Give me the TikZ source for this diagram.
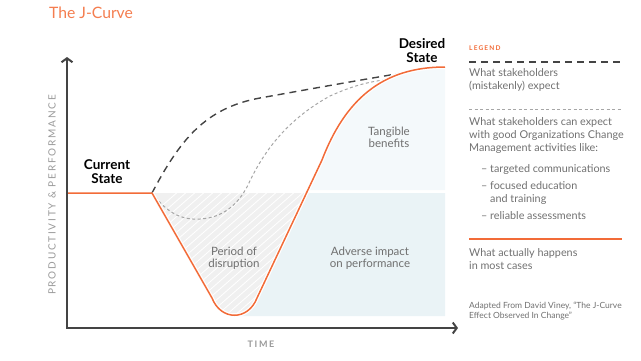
\documentclass[tikz,border=0pt]{standalone}
\usepackage{fontspec}
\setmainfont{Lato}
\newfontfamily\spacedfont[LetterSpace=18]{Lato}
\usetikzlibrary{arrows.meta}
\usetikzlibrary{positioning}
\definecolor{jorange}{HTML}{F26B38}
\definecolor{jtitle}{HTML}{F47D4F}
\definecolor{jaxis}{HTML}{444444}
\definecolor{jtext}{HTML}{707070}
\definecolor{jblue}{HTML}{EAF3F6}
\definecolor{jpale}{HTML}{F4F9FB}
\definecolor{jhatch}{HTML}{F0F0F0}
\tikzstyle{lab}=[text=jtext, align=center, font={\fontsize{11.5}{12}\selectfont}]
\tikzstyle{state}=[align=center, inner sep=0, font={\fontsize{13.5}{14}\selectfont\bfseries}]
\tikzstyle{leg}=[text=jtext, anchor=north west, align=left, inner sep=0, font={\fontsize{10.8}{13}\selectfont}]
\tikzstyle{axis}=[draw=jaxis, line width=2pt]
\tikzstyle{actual}=[draw=jorange, line width=1.5pt]
\tikzstyle{expect}=[draw=jaxis, line width=1.4pt, dash pattern=on 7pt off 5pt]
\tikzstyle{ocm}=[draw=black!35, line width=1pt, dash pattern=on 3pt off 2.5pt]
\tikzstyle{caps}=[text=black!40, inner sep=0, font={\spacedfont\fontsize{10}{10}\selectfont}]

\begin{document}
\begin{tikzpicture}[x=1pt,y=-1pt]
  \useasboundingbox (0,0) rectangle (641,360);

  \coordinate (o) at (67,328);
  \coordinate (ytip) at (67,57);
  \coordinate (xtip) at (458,328);
  \coordinate (start) at (152,193);
  \coordinate (goal) at (445,67);

  % regions under the curve
  \fill[jpale] (307.9,190) -- (322,160) .. controls (345,100) and (382,67) .. (goal) -- (445,190) -- cycle;
  \fill[jblue] (234.5,316) -- (234.5,315.25) .. controls (243.5,315.25) and (252.5,309.5) .. (257,298)
    -- (306.5,193) -- (445,193) -- (445,316) -- cycle;
  \begin{scope}
    \clip (start) -- (212,298) .. controls (221,321) and (248,321) .. (257,298) -- (306.5,193) -- cycle;
    \fill[jhatch] (140,180) rectangle (320,330);
    \foreach \x in {0,...,24}
      \draw[white, line width=0.8pt] (20+\x*9,330) -- ++(160,-140);
  \end{scope}

  % curves
  \draw[expect] (start) .. controls (180,140) and (205,108) .. (260,98) .. controls (310,89) and (360,80) .. (408,72);
  \draw[ocm] (start) .. controls (168,214) and (182,220) .. (200,219) .. controls (222,218) and (238,205) .. (248,185)
    .. controls (265,148) and (290,118) .. (330,96) .. controls (352,86) and (368,82) .. (384,80);
  \draw[white, line width=4pt] (start) -- (212,298) .. controls (221,321) and (248,321) .. (257,298) -- (322,160)
    .. controls (345,100) and (382,67) .. (goal);
  \draw[actual, line join=round] (o |- start) -- (start) -- (212,298) .. controls (221,321) and (248,321) .. (257,298) -- (322,160)
    .. controls (345,100) and (382,67) .. (goal);

  % axes
  \draw[axis, {Straight Barb[length=4pt,width=11pt]}-{Straight Barb[length=4pt,width=11pt]}] (ytip) -- (o) -- (xtip);

  \node[text=jtitle, anchor=west, inner sep=0, font={\fontsize{15.7}{16}\selectfont}] (title) at (49,13) {The J-Curve};
  \node[caps, rotate=90] (ylab) at (52,195) {PRODUCTIVITY \& PERFORMANCE};
  \node[caps, font={\spacedfont\fontsize{9}{9}\selectfont\bfseries}] (xlab) at (261,344) {TIME};

  \node[state] (cur) at (107,172) {Current\\State};
  \node[state] (des) at (422,51) {Desired\\State};
  \node[lab] (tang) at (389,137) {Tangible\\benefits};
  \node[lab] (disr) at (234,258) {Period of\\disruption};
  \node[lab] (adv) at (370,258) {Adverse impact\\on performance};

  % legend
  \node[text=jorange, anchor=west, inner sep=0, font={\spacedfont\fontsize{6.5}{7}\selectfont\bfseries}] (leg) at (469,48) {LEGEND};
  \coordinate (l1a) at (469,62);
  \coordinate (l1b) at (622,62);
  \draw[expect] (l1a) -- (l1b);
  \node[leg] (t1) at (469,68) {What stakeholders\\(mistakenly) expect};
  \coordinate (l2a) at (469,109);
  \coordinate (l2b) at (622,109);
  \draw[ocm] (l2a) -- (l2b);
  \node[leg] (t2) at (469,117) {What stakeholders can expect\\with good Organizations Change\\Management activities like:};
  \node[leg] (b1) at (481,164) {-- targeted communications};
  \node[leg] (b2) [below=7pt of b1.south west, anchor=north west] {-- focused education\\\phantom{-- }and training};
  \node[leg] (b3) [below=7pt of b2.south west, anchor=north west] {-- reliable assessments};
  \coordinate (l3a) at (469,239);
  \coordinate (l3b) at (622,239);
  \draw[actual] (l3a) -- (l3b);
  \node[leg] (t3) at (469,248) {What actually happens\\in most cases};
  \node[leg, font={\fontsize{8.5}{10}\selectfont}] (src) at (469,302) {Adapted From David Viney, “The J-Curve\\Effect Observed In Change”};
\end{tikzpicture}
\end{document}
